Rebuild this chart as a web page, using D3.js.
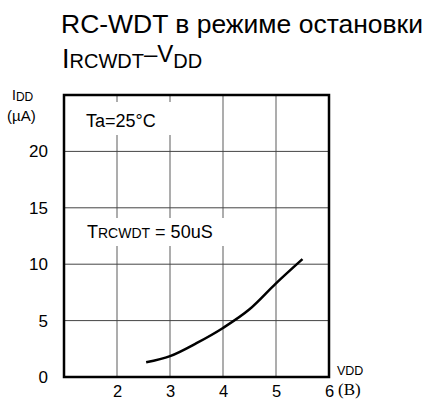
<!DOCTYPE html>
<html>
<head>
<meta charset="utf-8">
<script src="https://cdn.jsdelivr.net/npm/d3@7/dist/d3.min.js"></script>
<style>
  body { margin: 0; background: #fff; }
  text { font-family: Arial, "Liberation Sans", sans-serif; fill: #000; }
</style>
</head>
<body>
<script>
// data
const vdd = [2.55, 3.0, 3.5, 4.0, 4.5, 5.0, 5.5];
const idd = [1.3, 1.85, 3.0, 4.35, 6.0, 8.3, 10.45];
const xTicks = [2, 3, 4, 5, 6];
const yTicks = [0, 5, 10, 15, 20];

const width = 426, height = 401;
const margin = { top: 95, bottom: 24, left: 64, right: 97 };

const svg = d3.select("body").append("svg")
  .attr("width", width)
  .attr("height", height);

const x = d3.scaleLinear().domain([1, 6]).range([margin.left, width - margin.right]);
const y = d3.scaleLinear().domain([0, 25]).range([height - margin.bottom, margin.top]);

// grid
svg.append("g").selectAll("line")
  .data(xTicks.filter(d => d < 6))
  .join("line")
  .attr("x1", d => x(d)).attr("x2", d => x(d))
  .attr("y1", y(0)).attr("y2", y(25))
  .attr("stroke", "#999").attr("stroke-width", 1.6);

svg.append("g").selectAll("line")
  .data(yTicks.filter(d => d > 0))
  .join("line")
  .attr("x1", x(1)).attr("x2", x(6))
  .attr("y1", d => y(d)).attr("y2", d => y(d))
  .attr("stroke", "#444").attr("stroke-width", 1);

// white boxes behind annotation text
svg.append("rect").attr("x", 80).attr("y", 102).attr("width", 96).attr("height", 33).attr("fill", "#fff");
svg.append("rect").attr("x", 80).attr("y", 218).attr("width", 146).attr("height", 28).attr("fill", "#fff");

// curve
svg.append("path")
  .datum(vdd.map((v, i) => [v, idd[i]]))
  .attr("d", d3.line().x(d => x(d[0])).y(d => y(d[1])).curve(d3.curveMonotoneX))
  .attr("fill", "none")
  .attr("stroke", "#000")
  .attr("stroke-width", 2.5);

// frame
svg.append("rect")
  .attr("x", x(1)).attr("y", y(25))
  .attr("width", x(6) - x(1)).attr("height", y(0) - y(25))
  .attr("fill", "none").attr("stroke", "#000").attr("stroke-width", 2.5);

// axis labels
const yAxis = d3.axisLeft(y).tickValues(yTicks).tickSize(0).tickPadding(16);
svg.append("g")
  .attr("transform", `translate(${x(1)},0)`)
  .call(yAxis)
  .call(g => g.select(".domain").remove())
  .selectAll("text")
  .style("font-size", "17px");

const xAxis = d3.axisBottom(x).tickValues(xTicks).tickFormat(d3.format("d")).tickSize(0).tickPadding(8);
svg.append("g")
  .attr("transform", `translate(0,${y(0)})`)
  .call(xAxis)
  .call(g => g.select(".domain").remove())
  .selectAll("text")
  .style("font-size", "16.5px");

svg.append("text").attr("x", 338).attr("y", 395)
  .style("font-family", "'Liberation Serif', 'Times New Roman', serif")
  .style("font-size", "17px").text("(B)");

svg.append("text").attr("x", 337).attr("y", 375)
  .style("font-size", "12.5px").text("VDD");

// y unit
const yl = svg.append("text").attr("x", 12).attr("y", 100).style("font-size", "14px");
yl.append("tspan").text("I");
yl.append("tspan").style("font-size", "12px").attr("dy", 1).text("DD");
svg.append("text").attr("x", 7).attr("y", 121).style("font-size", "15px").text("(\u00b5A)");

// annotations
svg.append("text").attr("x", 86).attr("y", 127).style("font-size", "18px")
  .text("Ta=25\u00b0C");

const tr = svg.append("text").attr("x", 87).attr("y", 238).style("font-size", "18px");
tr.append("tspan").text("T");
tr.append("tspan").style("font-size", "14px").text("RCWDT");
tr.append("tspan").text(" = 50uS");

// titles
svg.append("text").attr("x", 61).attr("y", 33)
  .style("font-size", "25px")
  .attr("textLength", 362).attr("lengthAdjust", "spacingAndGlyphs")
  .text("RC-WDT в режиме остановки");

const t2 = svg.append("text").attr("x", 62).attr("y", 68).style("font-size", "24px");
t2.append("tspan").style("font-size", "27px").text("I");
t2.append("tspan").style("font-size", "20px").text("RCWDT");
t2.append("tspan").attr("dy", -6).text("\u2013V");
t2.append("tspan").attr("dy", 6).style("font-size", "20px").text("DD");
</script>
</body>
</html>
